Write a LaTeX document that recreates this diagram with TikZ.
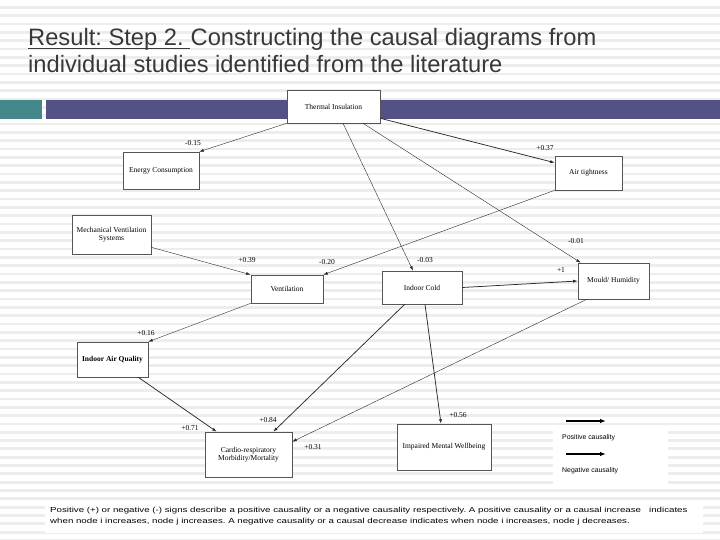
\documentclass[tikz,border=0pt]{standalone}
\usepackage{fontspec}
\setmainfont{Liberation Serif}
\newfontfamily\arialf{Liberation Sans}
\newfontfamily\footf[FakeStretch=1.33]{Liberation Sans}
\usetikzlibrary{arrows.meta,calc}
\frenchspacing
\definecolor{tealbar}{HTML}{43878B}
\definecolor{purplebar}{HTML}{525287}
\definecolor{titlegray}{HTML}{383838}
\definecolor{stripe}{HTML}{EDEDED}
\definecolor{boxgray}{HTML}{555555}
\definecolor{edgegray}{HTML}{2A2A2A}
\begin{document}
\begin{tikzpicture}[x=1pt,y=-1pt,
  box/.style={draw=boxgray, fill=white, line width=0.6pt, inner sep=0pt,
    font=\fontsize{7.5}{8.5}\selectfont, align=center},
  lab/.style={font=\fontsize{7.5}{8}\selectfont, inner sep=0pt},
  thin edge/.style={draw=edgegray, line width=0.4pt, -{Latex[length=4.5pt,width=3pt]}},
  thick edge/.style={draw=edgegray, line width=0.75pt, -{Latex[length=4.5pt,width=3.2pt]}},
  legarrow/.style={draw=black, line width=1.6pt, -{Latex[length=6pt,width=4.5pt]}},
  legtext/.style={font=\arialf\fontsize{6.9}{8}\selectfont, inner sep=0pt, anchor=west},
  foot/.style={font=\footf\fontsize{7.3}{8}\selectfont, inner sep=0pt, anchor=west},
  titletext/.style={anchor=base west, inner sep=0pt, text=titlegray, font=\arialf\fontsize{23.7}{27}\selectfont}]
\useasboundingbox (0,0) rectangle (720,540);
\fill[white] (0,0) rectangle (720,540);
\foreach \i in {0,...,64} \fill[stripe] (0,{6+8.33*\i}) rectangle (720,{8.8+8.33*\i});
% header bars
\fill[tealbar] (0,100) rectangle (42,119);
\fill[purplebar] (46,100) rectangle (720,119);
% title
\node[titletext] (t1a) at (28,46) {Result: Step 2.\hspace*{0.278em}\null};
\node[titletext] (t1b) at (t1a.base east) {Constructing the causal diagrams from};
\node[titletext] (t2) at (28,73) {individual studies identified from the literature};
\draw[titlegray, line width=1.1pt] ([yshift=-2.6pt]t1a.base west) -- ([yshift=-2.6pt]t1a.base east);
% boxes
\node[box, minimum width=93pt, minimum height=33pt] (TI) at (333.5,106.5) {Thermal Insulation};
\node[box, minimum width=76pt, minimum height=37pt] (EC) at (161,170.5) {Energy Consumption};
\node[box, minimum width=67pt, minimum height=34pt] (AT) at (588.5,173) {Air tightness};
\node[box, minimum width=79pt, minimum height=39pt] (MVS) at (111.5,234.5) {Mechanical Ventilation\\Systems};
\node[box, minimum width=72pt, minimum height=28pt] (VE) at (287,289) {Ventilation};
\node[box, minimum width=80pt, minimum height=33pt] (IC) at (422,287.5) {Indoor Cold};
\node[box, minimum width=71pt, minimum height=36pt] (MH) at (613.5,281) {Mould/ Humidity};
\node[box, minimum width=71pt, minimum height=35pt, font=\bfseries\fontsize{7.5}{8.5}\selectfont] (IAQ) at (112.5,359.5) {Indoor Air Quality};
\node[box, minimum width=87pt, minimum height=45pt] (CR) at (248.5,454.5) {Cardio-respiratory\\Morbidity/Mortality};
\node[box, minimum width=94pt, minimum height=46pt] (IMW) at (444,447) {Impaired Mental Wellbeing};
% edges
\draw[thin edge] (TI.south west) -- (EC.north east);
\draw[thick edge] ([yshift=5pt]TI.south east) -- ([yshift=-7pt]AT.north west);
\draw[thin edge] ([xshift=9.5pt]TI.south) -- ([xshift=-9pt]IC.north);
\draw[thin edge] ([xshift=29.5pt]TI.south) -- ([xshift=3pt]MH.north west);
\draw[thin edge] (AT.south west) -- (VE.north east);
\draw[thin edge] ([yshift=7pt]MVS.south east) -- (VE.north west);
\draw[thick edge] (IC.east) -- (MH.west);
\draw[thin edge] (VE.south west) -- (IAQ.north east);
\draw[thick edge] ([xshift=-10pt]IAQ.south east) -- ([xshift=12pt]CR.north west);
\draw[thick edge] ([xshift=23pt]IC.south west) -- ([xshift=-19pt]CR.north east);
\draw[thin edge] ([xshift=9pt]MH.south west) -- ([yshift=-10pt]CR.north east);
\draw[thick edge] ([xshift=3pt]IC.south) -- ([xshift=-3pt]IMW.north);
% edge labels
\node[lab] (l1) at (193,143) {-0.15};
\node[lab] (l2) at (545,148) {+0.37};
\node[lab] (l3) at (425,260) {-0.03};
\node[lab] (l4) at (576,241) {-0.01};
\node[lab] (l5) at (327,262) {-0.20};
\node[lab] (l6) at (247,260) {+0.39};
\node[lab] (l7) at (561,270) {+1};
\node[lab] (l8) at (146,333) {+0.16};
\node[lab] (l9) at (190,428) {+0.71};
\node[lab] (l10) at (268,420) {+0.84};
\node[lab] (l11) at (313,447) {+0.31};
\node[lab] (l12) at (458,415) {+0.56};
% legend
\fill[white] (553,428) rectangle (668,485);
\coordinate (p1) at (566,421); \coordinate (p2) at (606,421);
\coordinate (n1) at (566,454); \coordinate (n2) at (606,454);
\draw[legarrow] (p1) -- (p2);
\draw[legarrow] (n1) -- (n2);
\node[legtext] (pos) at (562,438) {Positive causality};
\node[legtext] (neg) at (562,471) {Negative causality};
% footer
\fill[white] (45,500) rectangle (703,533);
\node[foot] (f1) at (50,511) {Positive (+) or negative (-) signs describe a positive causality or a negative causality respectively. A positive causality or a causal increase \ \ indicates};
\node[foot] (f2) at (50,522) {when node i increases, node j increases. A negative causality or a causal decrease indicates when node i increases, node j decreases.};
\end{tikzpicture}
\end{document}
